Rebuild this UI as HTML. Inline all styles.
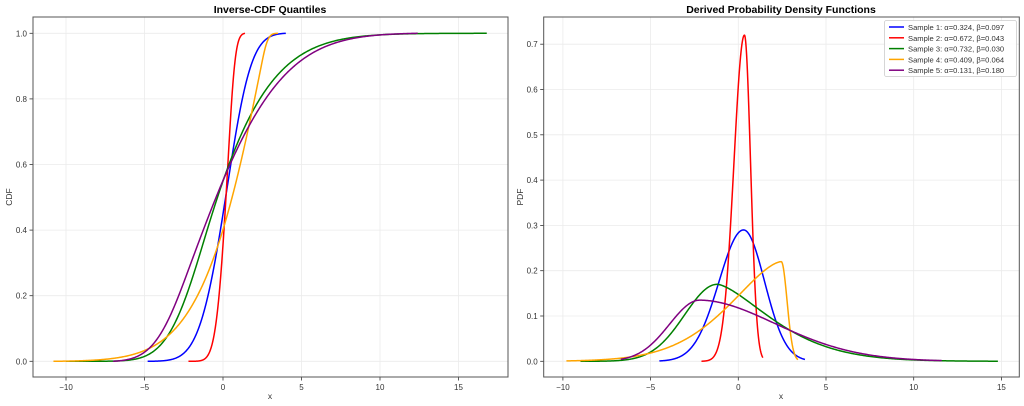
<!DOCTYPE html>
<html><head><meta charset="utf-8"><style>
body{margin:0;background:#fff;}
svg{display:block;font-family:"Liberation Sans","DejaVu Sans",sans-serif;}
</style></head><body>
<svg id="s" width="1024" height="406" viewBox="0 0 1024 406" xmlns="http://www.w3.org/2000/svg">
<rect width="1024" height="406" fill="#fff"/>
<g id="g"></g>
<text x="270" y="13" font-size="10.5" font-weight="bold" text-anchor="middle">Inverse-CDF Quantiles</text>
<text x="781" y="13" font-size="10.5" font-weight="bold" text-anchor="middle">Derived Probability Density Functions</text>
<text x="270" y="399" font-size="8.5" text-anchor="middle" fill="#333">x</text>
<text x="781" y="399" font-size="8.5" text-anchor="middle" fill="#333">x</text>
<text transform="translate(12,197) rotate(-90)" font-size="8.5" text-anchor="middle" fill="#333">CDF</text>
<text transform="translate(523,197) rotate(-90)" font-size="8.5" text-anchor="middle" fill="#333">PDF</text>
</svg>
<script>
const NS="http://www.w3.org/2000/svg",g=document.getElementById('g');
function el(t,a,txt){const e=document.createElementNS(NS,t);for(const k in a)e.setAttribute(k,a[k]);if(txt!=null)e.textContent=txt;g.appendChild(e);return e;}
const cols=['#0000ff','#ff0000','#008000','#ffa500','#800080'];
function pdf(i,x){let d;
 switch(i){
 case 0:d=x-0.3;return 0.29*Math.exp(-d*d/(2*(d<0?1.4:1.2)**2));
 case 1:d=x-0.35;return 0.72*Math.exp(-d*d/(2*(d<0?0.6:0.35)**2));
 case 2:d=x+1.2;return d<0?0.17*Math.exp(-d*d/(2*1.85*1.85)):0.17*Math.exp(-Math.pow(d,1.5)/9.3);
 case 3:d=x-2.45;return d<0?0.22*Math.exp(-Math.pow(-d,1.6)/10):0.22*Math.exp(-d*d/(2*0.33*0.33));
 case 4:d=x+2.2;return d<0?0.135*Math.exp(-d*d/(2*1.72*1.72)):0.135*Math.exp(-Math.pow(d,1.9)/33);
 }}
const pr=[[-4.5,3.8],[-2.1,1.4],[-9,14.8],[-9.8,3.4],[-6.7,11.6]];
const cr=[[-4.8,4],[-2.2,1.4],[-10,16.8],[-10.8,3.5],[-7,12.4]];
// axes definitions
const L={x0:33,x1:508,y0:17,y1:377,fx:x=>223+x*15.7,fy:y=>361.3-y*328,xt:[-10,-5,0,5,10,15],yt:[0,0.2,0.4,0.6,0.8,1.0],yf:1};
const R={x0:543.7,x1:1019.3,y0:17,y1:377,fx:x=>738.3+x*17.54,fy:y=>361.3-y*453,xt:[-10,-5,0,5,10,15],yt:[0,0.1,0.2,0.3,0.4,0.5,0.6,0.7],yf:1};
function axes(A){
 A.xt.forEach(v=>{const X=A.fx(v);el('line',{x1:X,x2:X,y1:A.y0,y2:A.y1,stroke:'#ebebeb','stroke-width':0.8});
  el('line',{x1:X,x2:X,y1:A.y1,y2:A.y1+3.5,stroke:'#333','stroke-width':0.8});
  el('text',{x:X,y:A.y1+13,'font-size':8,'text-anchor':'middle',fill:'#333'},v<0?'\u2212'+(-v):v);});
 A.yt.forEach(v=>{const Y=A.fy(v);el('line',{x1:A.x0,x2:A.x1,y1:Y,y2:Y,stroke:'#ebebeb','stroke-width':0.8});
  el('line',{x1:A.x0-3.5,x2:A.x0,y1:Y,y2:Y,stroke:'#333','stroke-width':0.8});
  el('text',{x:A.x0-6,y:Y+3,'font-size':8,'text-anchor':'end',fill:'#333'},v.toFixed(1));});
}
axes(L);axes(R);
for(let i=0;i<5;i++){
 // pdf
 let [a,b]=pr[i],p='';
 for(let k=0;k<=400;k++){const x=a+(b-a)*k/400;p+=(k?'L':'M')+R.fx(x).toFixed(2)+','+R.fy(pdf(i,x)).toFixed(2);}
 el('path',{d:p,fill:'none',stroke:cols[i],'stroke-width':1.5});
 // cdf
 [a,b]=cr[i];const N=800,xs=[],cs=[];let s=0;
 for(let k=0;k<=N;k++){const x=a+(b-a)*k/N;if(k)s+=pdf(i,x)*(b-a)/N;xs.push(x);cs.push(s);}
 p='';for(let k=0;k<=N;k+=2){p+=(k?'L':'M')+L.fx(xs[k]).toFixed(2)+','+L.fy(cs[k]/s).toFixed(2);}
 el('path',{d:p,fill:'none',stroke:cols[i],'stroke-width':1.5});
}
[L,R].forEach(A=>el('rect',{x:A.x0,y:A.y0,width:A.x1-A.x0,height:A.y1-A.y0,fill:'none',stroke:'#555','stroke-width':1}));
// legend
el('rect',{x:884.5,y:20.5,width:132,height:56,fill:'#fff','fill-opacity':0.9,stroke:'#ccc','stroke-width':0.8,rx:2});
const lab=['Sample 1: \u03b1=0.324, \u03b2=0.097','Sample 2: \u03b1=0.672, \u03b2=0.043','Sample 3: \u03b1=0.732, \u03b2=0.030','Sample 4: \u03b1=0.409, \u03b2=0.064','Sample 5: \u03b1=0.131, \u03b2=0.180'];
lab.forEach((t,i)=>{const y=27+i*10.8;el('line',{x1:889,x2:904,y1:y,y2:y,stroke:cols[i],'stroke-width':1.5});
 el('text',{x:908,y:y+3,'font-size':7.6,fill:'#333'},t);});
</script>
</body></html>
